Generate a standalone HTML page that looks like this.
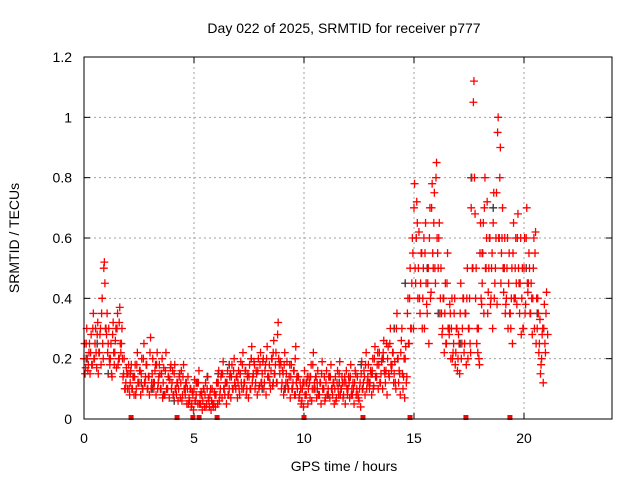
<!DOCTYPE html>
<html><head><meta charset="utf-8"><style>
html,body{margin:0;padding:0;background:#fff;}
svg{display:block;font-family:"Liberation Sans",sans-serif;}
</style></head><body>
<svg id="chart" width="640" height="480" viewBox="0 0 640 480">
<text x="344" y="33" font-size="14" text-anchor="middle">Day 022 of 2025, SRMTID for receiver p777</text>
<text x="344" y="471" font-size="14" text-anchor="middle">GPS time / hours</text>
<text transform="translate(19,238) rotate(-90)" font-size="14" text-anchor="middle">SRMTID / TECUs</text>
<g id="grid"></g>
<g id="ticks"></g>
<g id="marks"></g>
<rect x="84" y="57" width="528" height="362" fill="none" stroke="#000" stroke-width="1"/>
</svg>
<script>
const xTicks=[0,5,10,15,20];
const yTicks=[0,0.2,0.4,0.6,0.8,1,1.2];
const yTickLabels=["0","0.2","0.4","0.6","0.8","1","1.2"];
const redA=[0.2,0.25,0.18,0.22,0.3,0.25,0.28,0.22,0.35,0.5,
0.3,0.25,0.2,0.28,0.22,0.3,0.32,0.25,0.15,0.12,
0.15,0.12,0.1,0.14,0.18,0.12,0.15,0.2,0.14,0.1,
0.22,0.15,0.12,0.18,0.14,0.1,0.12,0.16,0.1,0.13,
0.12,0.15,0.08,0.1,0.12,0.14,0.08,0.1,0.06,0.05,
0.1,0.08,0.12,0.05,0.06,0.08,0.1,0.04,0.06,0.05,
0.08,0.12,0.1,0.15,0.08,0.12,0.1,0.14,0.16,0.1,
0.12,0.15,0.18,0.12,0.1,0.14,0.2,0.15,0.12,0.16,
0.18,0.15,0.12,0.2,0.14,0.16,0.22,0.18,0.28,0.15,
0.12,0.18,0.15,0.1,0.14,0.12,0.2,0.1,0.08,0.06,
0.12,0.08,0.1,0.14,0.18,0.1,0.12,0.08,0.15,0.1,
0.12,0.1,0.14,0.08,0.1,0.12,0.15,0.1,0.08,0.12,
0.1,0.14,0.08,0.12,0.1,0.06,0.15,0.12,0.18,0.14,
0.12,0.16,0.2,0.14,0.18,0.15,0.22,0.12,0.2,0.25,
0.18,0.15,0.3,0.12,0.22,0.1,0.2,0.35,0.4,0.45,
0.7,0.6,0.5,0.45,0.4,0.55,0.35,0.6,0.7,0.65,
0.8,0.5,0.4,0.3,0.35,0.45,0.28,0.3,0.25,0.22,
0.2,0.35,0.3,0.25,0.4,0.3,0.7,1.05,0.4,0.22,
0.55,0.45,0.7,0.6,0.5,0.4,0.65,0.5,0.95,0.8,
0.6,0.5,0.4,0.45,0.3,0.55,0.5,0.6,0.35,0.4,
0.5,0.6,0.45,0.35,0.4,0.55,0.3,0.25,0.2,0.3,0.35];
const redB=[0.15,0.2,0.25,0.18,0.2,0.22,0.15,0.3,0.25,0.45,
0.35,0.2,0.15,0.22,0.3,0.18,0.25,0.2,0.1,0.15,
0.1,0.18,0.14,0.08,0.12,0.16,0.1,0.12,0.18,0.14,
0.1,0.12,0.18,0.1,0.15,0.2,0.08,0.1,0.14,0.18,
0.08,0.1,0.12,0.15,0.06,0.1,0.12,0.05,0.1,0.08,
0.06,0.12,0.05,0.08,0.1,0.04,0.07,0.1,0.05,0.08,
0.12,0.06,0.15,0.1,0.12,0.08,0.15,0.1,0.12,0.14,
0.1,0.12,0.1,0.16,0.15,0.1,0.12,0.18,0.15,0.1,
0.12,0.2,0.18,0.14,0.12,0.2,0.15,0.12,0.2,0.18,
0.15,0.1,0.12,0.18,0.1,0.16,0.12,0.14,0.1,0.12,
0.08,0.14,0.12,0.06,0.1,0.14,0.08,0.12,0.1,0.06,
0.08,0.14,0.1,0.12,0.06,0.1,0.08,0.12,0.14,0.1,
0.12,0.08,0.1,0.15,0.08,0.12,0.1,0.14,0.1,0.12,
0.15,0.1,0.14,0.22,0.12,0.2,0.16,0.25,0.15,0.18,
0.22,0.12,0.2,0.15,0.3,0.2,0.12,0.25,0.3,0.55,
0.5,0.65,0.4,0.55,0.6,0.45,0.5,0.4,0.55,0.5,
0.6,0.65,0.35,0.4,0.25,0.3,0.35,0.2,0.4,0.3,
0.25,0.2,0.4,0.35,0.2,0.25,0.5,0.8,0.25,0.2,
0.4,0.65,0.5,0.35,0.6,0.55,0.4,0.75,0.6,0.45,
0.5,0.35,0.6,0.35,0.5,0.4,0.45,0.5,0.6,0.3,
0.35,0.45,0.5,0.4,0.6,0.25,0.35,0.15,0.3,0.25];
const redC=[0.25,0.3,0.22,0.28,0.35,0.3,0.32,0.28,0.4,0.52,
0.28,0.3,0.25,0.32,0.26,0.35,0.37,0.3,0.2,0.17,
0.18,0.16,0.14,0.18,0.22,0.16,0.2,0.25,0.18,0.14,
0.27,0.2,0.16,0.22,0.18,0.15,0.17,0.22,0.14,0.17,
0.16,0.18,0.12,0.14,0.16,0.18,0.12,0.14,0.1,0.09,
0.13,0.12,0.16,0.09,0.1,0.12,0.14,0.08,0.1,0.09,
0.12,0.16,0.14,0.19,0.12,0.16,0.14,0.18,0.2,0.14,
0.16,0.19,0.22,0.16,0.14,0.18,0.24,0.19,0.16,0.2,
0.22,0.19,0.16,0.24,0.18,0.2,0.26,0.22,0.32,0.19,
0.16,0.22,0.19,0.14,0.18,0.16,0.24,0.14,0.12,0.1,
0.16,0.12,0.14,0.18,0.22,0.14,0.16,0.12,0.19,0.14,
0.16,0.14,0.18,0.12,0.14,0.16,0.19,0.14,0.12,0.16,
0.14,0.18,0.12,0.16,0.14,0.1,0.19,0.16,0.22,0.18,
0.16,0.2,0.24,0.18,0.22,0.19,0.26,0.16,0.24,0.3,
0.22,0.19,0.35,0.16,0.26,0.14,0.24,0.4,0.5,0.6,
0.78,0.72,0.62,0.55,0.5,0.65,0.45,0.7,0.78,0.75,
0.85,0.6,0.5,0.4,0.45,0.55,0.38,0.4,0.35,0.3,
0.28,0.45,0.4,0.35,0.5,0.4,0.8,1.12,0.5,0.3,
0.65,0.55,0.8,0.72,0.6,0.5,0.75,0.6,1.0,0.9,
0.7,0.6,0.5,0.55,0.4,0.65,0.6,0.68,0.45,0.5,
0.6,0.7,0.55,0.45,0.5,0.62,0.4,0.33,0.28,0.38,0.42];
const redD=[0.17,0.16,0.15,0.18,0.2,0.17,0.22,0.18,0.2,0.3,
0.22,0.18,0.14,0.18,0.17,0.2,0.22,0.14,0.1,0.1,
0.08,0.1,0.08,0.1,0.12,0.08,0.1,0.12,0.1,0.08,
0.12,0.1,0.08,0.12,0.1,0.07,0.08,0.1,0.07,0.1,
0.08,0.1,0.06,0.07,0.08,0.1,0.05,0.07,0.04,0.03,
0.06,0.05,0.08,0.03,0.04,0.05,0.06,0.03,0.04,0.04,
0.05,0.08,0.07,0.1,0.05,0.08,0.07,0.1,0.11,0.07,
0.08,0.1,0.12,0.08,0.07,0.1,0.14,0.1,0.08,0.11,
0.12,0.1,0.08,0.14,0.1,0.11,0.15,0.12,0.18,0.1,
0.08,0.12,0.1,0.07,0.1,0.08,0.14,0.07,0.05,0.04,
0.08,0.05,0.07,0.1,0.12,0.07,0.08,0.05,0.1,0.07,
0.08,0.07,0.1,0.05,0.07,0.08,0.1,0.07,0.05,0.08,
0.07,0.1,0.05,0.08,0.07,0.04,0.1,0.08,0.12,0.1,
0.08,0.11,0.14,0.1,0.12,0.1,0.15,0.08,0.14,0.16,
0.12,0.1,0.2,0.08,0.15,0.07,0.14,0.25,0.3,0.3,
0.45,0.4,0.35,0.3,0.3,0.38,0.25,0.42,0.5,0.45,
0.55,0.35,0.28,0.22,0.25,0.3,0.2,0.22,0.18,0.16,
0.15,0.25,0.22,0.18,0.3,0.22,0.5,0.68,0.3,0.18,
0.38,0.35,0.5,0.42,0.38,0.3,0.45,0.38,0.6,0.55,
0.42,0.38,0.3,0.35,0.25,0.4,0.38,0.45,0.28,0.3,
0.38,0.42,0.35,0.28,0.3,0.4,0.22,0.18,0.12,0.22,0.28];
const blackVals=[0.2,0.25,0.15,0.2,0.15,0.12,0.1,0.08,0.06,0.1,0.12,0.14,0.15,0.18,0.15,0.2,0.1,0.12,0.1,0.08,0.12,0.1,0.08,0.12,0.14,0.18,0.15,0.2,0.3,0.45,0.6,0.5,0.35,0.3,0.25,0.8,0.55,0.7,0.5,0.4,0.5,0.35];
const zeroHours=[2.14,4.23,4.95,5.23,6.05,10.0,12.68,14.82,17.36,19.36];

const NS="http://www.w3.org/2000/svg";
const X0=84,X1=612,Y0=419,Y1=57;
function xs(h){return X0+(h/24)*(X1-X0);}
function ys(v){return Y0-(v/1.2)*(Y0-Y1);}
const grid=document.getElementById('grid');
const ticks=document.getElementById('ticks');
const marks=document.getElementById('marks');
function mk(tag,attrs,parent){const e=document.createElementNS(NS,tag);for(const k in attrs)e.setAttribute(k,attrs[k]);parent.appendChild(e);return e;}

xTicks.forEach(t=>{
  const x=xs(t);
  if(t>0){const g=mk('line',{x1:x,y1:Y0,x2:x,y2:Y1,stroke:'#a0a0a0','stroke-dasharray':'2,3'},grid);
  
  }
  mk('line',{x1:x,y1:Y0,x2:x,y2:Y0-6,stroke:'#000'},ticks);
  mk('line',{x1:x,y1:Y1,x2:x,y2:Y1+6,stroke:'#000'},ticks);
  const l=mk('text',{x:x,y:443,'font-size':14,'text-anchor':'middle'},ticks);
  l.textContent=String(t);
  
  
});
yTicks.forEach((t,i)=>{
  const y=ys(t);
  if(t>0&&t<1.2){const g=mk('line',{x1:X0,y1:y,x2:X1,y2:y,stroke:'#a0a0a0','stroke-dasharray':'2,3'},grid);
  
  }
  mk('line',{x1:X0,y1:y,x2:X0+6,y2:y,stroke:'#000'},ticks);
  mk('line',{x1:X1,y1:y,x2:X1-6,y2:y,stroke:'#000'},ticks);
  const l=mk('text',{x:72,y:y+5,'font-size':14,'text-anchor':'end'},ticks);
  l.textContent=yTickLabels[i];
  
  
});
function plus(h,v,color,name){
  const x=xs(h),y=ys(v);
  const p=mk('path',{d:`M${x-4},${y}H${x+4}M${x},${y-4}V${y+4}`,stroke:color,'stroke-width':1.3,fill:'none'},marks);
  
  
}
blackVals.forEach((v,i)=>plus(i*0.5+0.1,v,'#303030','black-point'));
redA.forEach((v,i)=>plus(i*0.1,v,'#ff0000','red-point'));
redB.forEach((v,i)=>plus(i*0.1+0.05,v,'#ff0000','red-point'));
redC.forEach((v,i)=>plus(i*0.1+0.025,v,'#ff0000','red-point'));
redD.forEach((v,i)=>plus(i*0.1+0.075,v,'#ff0000','red-point'));
zeroHours.forEach(h=>{
  const r=mk('rect',{x:xs(h)-2.5,y:Y0-4,width:5,height:5,fill:'#ff0000'},marks);
  
  
});
</script>
</body></html>
